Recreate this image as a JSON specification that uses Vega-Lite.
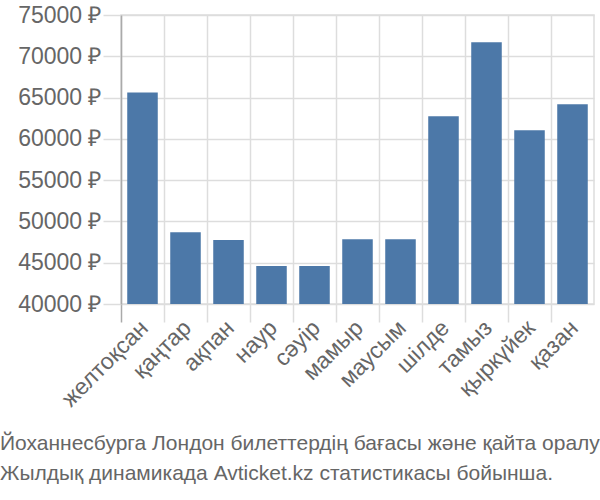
{
  "$schema": "https://vega.github.io/schema/vega-lite/v6.json",
  "width": 473,
  "height": 289,
  "autosize": "none",
  "padding": {"left": 121, "top": 15, "right": 6, "bottom": 196},
  "background": "white",
  "title": {
    "text": ["Йоханнесбурга Лондон билеттердің бағасы және қайта оралу", "Жылдық динамикада Avticket.kz статистикасы бойынша."],
    "orient": "bottom",
    "anchor": "start",
    "frame": "group",
    "dx": -121,
    "offset": 22,
    "font": "Liberation Sans",
    "fontSize": 21,
    "fontWeight": "normal",
    "color": "#666666",
    "lineHeight": 30
  },
  "data": {
    "values": [
      {"month": "желтоқсан", "price": 65600},
      {"month": "қаңтар", "price": 48700},
      {"month": "ақпан", "price": 47750},
      {"month": "наур", "price": 44600},
      {"month": "сәуір", "price": 44600},
      {"month": "мамыр", "price": 47850},
      {"month": "маусым", "price": 47850},
      {"month": "шілде", "price": 62750},
      {"month": "тамыз", "price": 71700},
      {"month": "қыркүйек", "price": 61050},
      {"month": "қазан", "price": 64200}
    ]
  },
  "mark": {"type": "bar", "color": "#4c78a8", "width": {"band": 0.71}, "clip": true},
  "encoding": {
    "x": {
      "field": "month",
      "type": "nominal",
      "sort": null,
      "scale": {"paddingInner": 0, "paddingOuter": 0},
      "axis": {
        "title": null,
        "bandPosition": 0,
        "labelAngle": -45,
        "labelAlign": "right",
        "labelBaseline": "middle",
        "labelFont": "Liberation Sans",
        "labelFontSize": 23,
        "labelColor": "#666666",
        "labelPadding": 2,
        "labelOffset": 2,
        "tickSize": 18,
        "tickColor": {"condition": {"test": "datum.value === 'желтоқсан'", "value": "#aaaaaa"}, "value": "#dddddd"},
        "tickWidth": 1.5,
        "grid": true,
        "gridColor": "#dddddd",
        "gridWidth": 1.5,
        "domain": false
      }
    },
    "y": {
      "field": "price",
      "type": "quantitative",
      "scale": {"domain": [40000, 75000], "zero": false, "nice": false},
      "axis": {
        "title": null,
        "values": [40000, 45000, 50000, 55000, 60000, 65000, 70000, 75000],
        "labelExpr": "format(datum.value, 'd') + ' ₽'",
        "labelFont": "Liberation Sans",
        "labelFontSize": 23,
        "labelColor": "#666666",
        "labelPadding": 2,
        "tickSize": 18,
        "tickColor": "#dddddd",
        "tickWidth": 1.5,
        "gridColor": "#dddddd",
        "gridWidth": 1.5,
        "domainColor": "#aaaaaa",
        "domainWidth": 1.5
      }
    }
  },
  "config": {
    "view": {"stroke": "#dddddd", "strokeWidth": 1.5}
  }
}
